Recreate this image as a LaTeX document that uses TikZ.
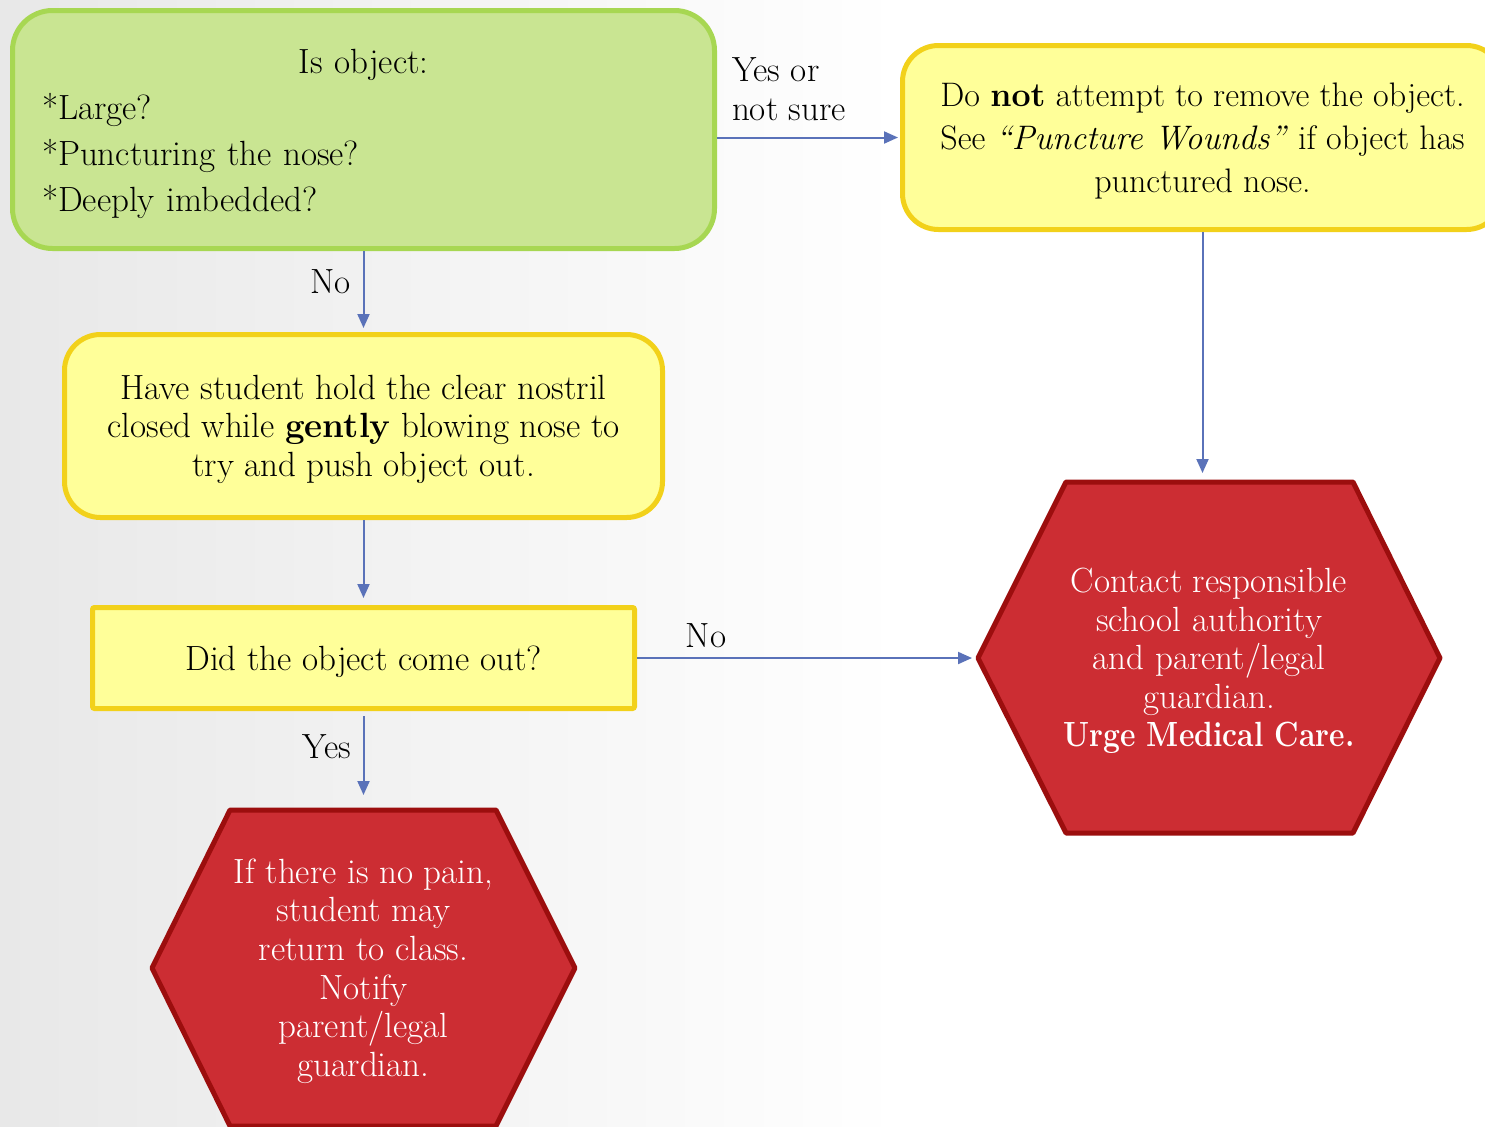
\documentclass[tikz,border=0pt]{standalone}
\usepackage{fontspec}
\usetikzlibrary{arrows.meta}
\definecolor{bgL}{HTML}{E8E8E8}
\definecolor{gfill}{HTML}{C9E592}
\definecolor{gline}{HTML}{A7D752}
\definecolor{yfill}{HTML}{FFFF99}
\definecolor{yline}{HTML}{F2D11A}
\definecolor{rfill}{HTML}{CC2D33}
\definecolor{rline}{HTML}{9C0E0E}
\definecolor{arrc}{HTML}{5A72B9}
\begin{document}
\begin{tikzpicture}[x=0.5pt,y=-0.5pt,
  txt/.style={font=\fontsize{17.5}{19.3}\selectfont},
  box/.style={txt, draw, line width=2.5pt, align=center, inner sep=0pt},
  gbox/.style={box, fill=gfill, draw=gline, rounded corners=20pt},
  ybox/.style={box, fill=yfill, draw=yline, rounded corners=18pt},
  rbox/.style={box, fill=yfill, draw=yline, rounded corners=1pt},
  hexs/.style={fill=rfill, draw=rline, line width=2.5pt, line join=round},
  hext/.style={txt, text=white, align=center},
  arr/.style={draw=arrc, line width=1pt, -{Triangle[length=7pt,width=6pt]}},
  lab/.style={txt},
]
\useasboundingbox (0,0) rectangle (1485,1126);
\fill[white] (0,0) rectangle (1485,1126);
\fill[left color=bgL, right color=white] (0,0) rectangle (900,1126);

% boxes
\node[gbox, minimum width=351pt, minimum height=119pt, text width=321.5pt,
      align=left, font=\fontsize{17.5}{23}\selectfont] (q1) at (363.5,129.5)
  {\rule{0pt}{17pt}\makebox[321.5pt]{Is object:}\\{}*Large?\\{}*Puncturing the nose?\\{}*Deeply imbedded?};
\node[ybox, minimum width=300pt, minimum height=92pt,
      font=\fontsize{17}{21.5}\selectfont] (y1) at (1202.5,137.5)
  {\rule{0pt}{15.6pt}Do \textbf{not} attempt to remove the object.\\See \textit{``Puncture Wounds''} if object has\\punctured nose.};
\node[ybox, minimum width=299pt, minimum height=91.5pt] (y2) at (363.5,426)
  {\rule{0pt}{15.5pt}Have student hold the clear nostril\\closed while \textbf{gently} blowing nose to\\try and push object out.};
\node[rbox, minimum width=271pt, minimum height=50.5pt] (dq) at (363.5,658)
  {\rule{0pt}{16pt}Did the object come out?};

% hexagons
\draw[hexs] (1066,482) -- (1353,482) -- (1440,658) -- (1353,833) -- (1066,833) -- (978,658) -- cycle;
\coordinate (hrW) at (978,658);
\coordinate (hrN) at (1209,482);
\node[hext] (hrT) at (1209,661)
  {Contact responsible\\school authority\\and parent/legal\\guardian.\\\scalebox{0.86}[1]{\textbf{Urge Medical Care.}}};
\draw[hexs] (230,810) -- (496,810) -- (575,968) -- (496,1126) -- (230,1126) -- (152,968) -- cycle;
\coordinate (hbN) at (363.5,810);
\node[hext] (hbT) at (363.5,971)
  {If there is no pain,\\student may\\return to class.\\Notify\\parent/legal\\guardian.};

% connectors
\draw[arr, shorten >=1pt] (y1.west -| q1.east) -- (y1.west);
\draw[arr, shorten >=2pt] (q1.south) -- (y2.north);
\draw[arr, shorten >=3.5pt] (y2.south) -- (dq.north);
\draw[arr, shorten >=3pt] (dq.east) -- (hrW);
\draw[arr, shorten <=2.5pt, shorten >=7.5pt] (dq.south) -- (hbN);
\draw[arr, shorten >=4.5pt] (y1.south) -- (y1.south |- hrN);

% labels
\node[lab, anchor=west, align=left, font=\fontsize{17.5}{19.5}\selectfont] (lYes1) at (725,89) {Yes or\\not sure};
\node[lab, anchor=east] (lNo1) at (358,282) {No};
\node[lab] (lNo2) at (706,636) {No};
\node[lab, anchor=east] (lYes2) at (358,747) {Yes};
\end{tikzpicture}
\end{document}
